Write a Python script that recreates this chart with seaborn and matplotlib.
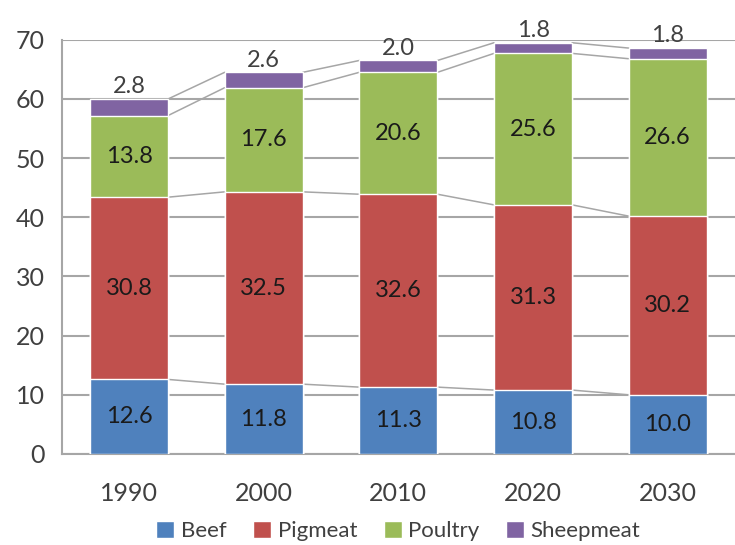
import numpy as np
import pandas as pd
import matplotlib
matplotlib.use("Agg")
import matplotlib.pyplot as plt
import seaborn as sns

years = ['1990', '2000', '2010', '2020', '2030']
series = ['Beef', 'Pigmeat', 'Poultry', 'Sheepmeat']
beef = [12.6, 11.8, 11.3, 10.8, 10.0]
pigmeat = [30.8, 32.5, 32.6, 31.3, 30.2]
poultry = [13.8, 17.6, 20.6, 25.6, 26.6]
sheepmeat = [2.8, 2.6, 2.0, 1.8, 1.8]
colors = ['#4F81BD', '#C0504D', '#9BBB59', '#8064A2']

sns.set_style('white')
plt.rcParams['font.family'] = ['Lato', 'DejaVu Sans']
grey = '#a6a6a6'
txt = '#404040'

data = pd.DataFrame({'year': years, 'Beef': beef, 'Pigmeat': pigmeat,
                     'Poultry': poultry, 'Sheepmeat': sheepmeat})
cum = data[series].cumsum(axis=1)

fig = plt.figure(figsize=(7.35, 5.45), dpi=100)
ax = fig.add_axes([0.084, 0.167, 0.916, 0.76])

width = 0.58
# draw cumulative totals from the top series down so each one covers the next
for s, c in reversed(list(zip(series, colors))):
    sns.barplot(x=data['year'], y=cum[s], color=c, width=width,
                saturation=1, ax=ax, label=s, zorder=3)

# connector lines between bar tops
for s in series:
    for i in range(len(years) - 1):
        ax.plot([i + width / 2, i + 1 - width / 2],
                [cum[s][i], cum[s][i + 1]], color=grey, lw=1.1, zorder=2)

# value labels
for i in range(len(years)):
    lower = 0
    for s in series[:3]:
        v = data[s][i]
        ax.text(i, lower + v / 2, f'{v:.1f}', ha='center', va='center',
                fontsize=17, color='#1a1a1a', zorder=5)
        lower += v
    ax.text(i, cum['Sheepmeat'][i] + 0.3, f"{data['Sheepmeat'][i]:.1f}",
            ha='center', va='bottom', fontsize=17, color=txt, zorder=5)

ax.set_ylim(0, 70)
ax.set_xlim(-0.5, 4.5)
ax.set_yticks(range(0, 71, 10))
ax.yaxis.grid(True, color=grey, lw=1.5, zorder=0)
ax.set_axisbelow(True)
ax.set_xlabel('')
ax.set_ylabel('')
for side in ['top', 'right']:
    ax.spines[side].set_visible(False)
for side in ['left', 'bottom']:
    ax.spines[side].set_color(grey)
    ax.spines[side].set_linewidth(1.5)
ax.set_xticks(np.arange(-0.5, 4.6, 1), minor=True)
ax.tick_params(axis='x', which='major', length=0, pad=20, labelsize=18, labelcolor=txt)
ax.tick_params(axis='x', which='minor', length=7, width=1.5, color=grey)
ax.tick_params(axis='y', length=7, width=1.5, color=grey, labelsize=18,
               labelcolor=txt, pad=5)

handles, labels = ax.get_legend_handles_labels()
order = [labels.index(s) for s in series]
ax.legend([handles[k] for k in order], series, loc='center',
          bbox_to_anchor=(0.5, -0.185), ncol=4, frameon=False, fontsize=16,
          handlelength=0.8, handleheight=0.8, handletextpad=0.3,
          columnspacing=1.2, labelcolor=txt)

fig.savefig('out.png', dpi=100)
